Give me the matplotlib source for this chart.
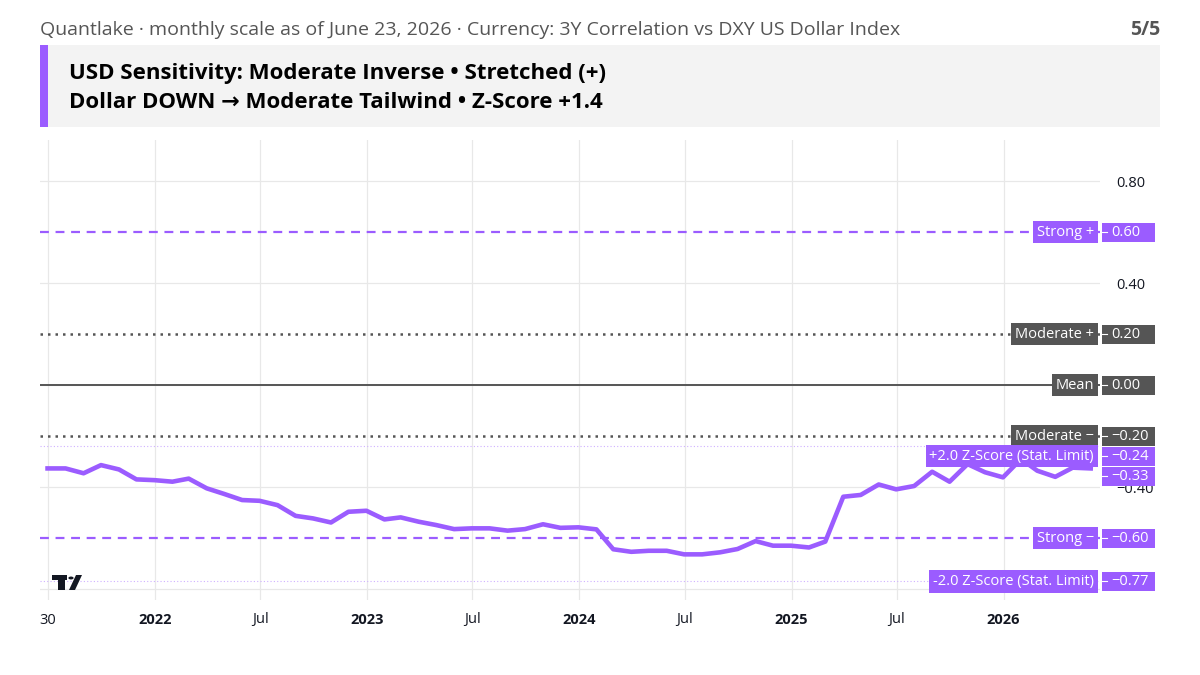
import numpy as np
import pandas as pd
import matplotlib
matplotlib.use('Agg')
import matplotlib.pyplot as plt
from matplotlib.transforms import blended_transform_factory
from matplotlib.patches import Rectangle, Polygon, Circle

plt.rcParams['font.family'] = ['Open Sans', 'DejaVu Sans']

# data: monthly 3Y correlation vs DXY
dates = pd.date_range('2021-06-30', periods=60, freq='ME')
corr = [-0.327, -0.327, -0.346, -0.314, -0.331, -0.370, -0.373,
        -0.379, -0.367, -0.405, -0.427, -0.451, -0.454, -0.471, -0.513, -0.523, -0.539, -0.497, -0.493,
        -0.527, -0.519, -0.536, -0.549, -0.565, -0.562, -0.562, -0.571, -0.565, -0.546, -0.560, -0.558,
        -0.566, -0.644, -0.654, -0.650, -0.650, -0.664, -0.664, -0.656, -0.643, -0.612, -0.630, -0.630,
        -0.637, -0.614, -0.438, -0.431, -0.390, -0.409, -0.396, -0.340, -0.379, -0.310, -0.342, -0.362,
        -0.290, -0.336, -0.360, -0.324, -0.327]

level_names = ['Strong +', 'Moderate +', 'Mean', 'Moderate \u2212',
               '+2.0 Z-Score (Stat. Limit)', 'Strong \u2212', '-2.0 Z-Score (Stat. Limit)']
level_values = [0.60, 0.20, 0.00, -0.20, -0.24, -0.60, -0.77]
level_kinds = ['strong', 'moderate', 'mean', 'moderate', 'z', 'strong', 'z']

# 0.00 and -0.80 sit under the level boxes, so only their gridlines show
grid_y = [0.80, 0.40, 0.00, -0.40, -0.80]
tick_y = [0.80, 0.40, -0.40]
xtick_dates = ['2021-06-30', '2022-01-01', '2022-07-01', '2023-01-01', '2023-07-01',
               '2024-01-01', '2024-07-01', '2025-01-01', '2025-07-01', '2026-01-01']
xtick_labels = ['30', '2022', 'Jul', '2023', 'Jul', '2024', 'Jul', '2025', 'Jul', '2026']

header = 'Quantlake \u00b7 monthly scale as of June 23, 2026 \u00b7 Currency: 3Y Correlation vs DXY US Dollar Index'
title1 = 'USD Sensitivity: Moderate Inverse \u2022 Stretched (+)'
title2 = 'Dollar DOWN \u2192 Moderate Tailwind \u2022 Z-Score +1.4'

PURPLE = '#9b5cff'
GRAY = '#555555'
LIGHT_PURPLE = '#cfb0ff'

W, H = 1200, 675
fig = plt.figure(figsize=(12, 6.75), dpi=100)
ax = fig.add_axes([40 / W, 1 - 600 / H, 1060 / W, 460 / H])

ax.plot(dates, corr, color=PURPLE, lw=3.3, solid_joinstyle='round', zorder=4)

styles = {
    'strong': dict(color=PURPLE, lw=1.6, ls=(0, (4, 3))),
    'moderate': dict(color=GRAY, lw=1.8, ls=(0, (1, 2))),
    'mean': dict(color=GRAY, lw=1.4, ls='-'),
    'z': dict(color=LIGHT_PURPLE, lw=0.8, ls=(0, (1, 2))),
}
box_colors = {'strong': PURPLE, 'moderate': GRAY, 'mean': GRAY, 'z': PURPLE}
for v, k in zip(level_values, level_kinds):
    ax.axhline(v, zorder=3, **styles[k])

ax.set_xlim(pd.Timestamp('2021-06-17'), pd.Timestamp('2026-06-16'))
ax.set_ylim(-0.843, 0.961)

ax.set_xticks([pd.Timestamp(d) for d in xtick_dates])
ax.set_xticklabels(xtick_labels)
for lbl in ax.get_xticklabels():
    if len(lbl.get_text()) == 4:
        lbl.set_fontweight('bold')
ax.tick_params(axis='x', length=0, pad=9, labelsize=10.5, colors='#131722')

ax.yaxis.tick_right()
ax.set_yticks(grid_y)
ax.set_yticklabels([f'{t:.2f}'.replace('-', '\u2212') if t in tick_y else '' for t in grid_y])
ax.tick_params(axis='y', length=0, pad=12, labelsize=10.5, colors='#131722')

ax.grid(True, color='#e8e8e8', lw=0.9)
ax.set_axisbelow(True)
for s in ax.spines.values():
    s.set_visible(False)

# right-hand labels with simple stacking so boxes don't overlap
ypp = (0.961 + 0.843) / 460  # data units per pixel
box_h = 20 * ypp
entries = [(v, n, box_colors[k]) for v, n, k in zip(level_values, level_names, level_kinds)]
entries.append((corr[-1], None, PURPLE))
entries.sort(key=lambda e: -e[0])
placed = []
prev = None
for v, n, c in entries:
    y = v
    if prev is not None and prev - y < box_h:
        y = prev - box_h
    placed.append((v, y, n, c))
    prev = y

tr = blended_transform_factory(fig.transFigure, ax.transData)
for v, y, n, c in placed:
    ax.add_patch(Rectangle((1102 / W, y - box_h / 2 + ypp * 0.5), 53 / W, box_h - ypp,
                           transform=tr, facecolor=c, edgecolor='none', clip_on=False, zorder=6))
    ax.plot([1102 / W, 1107 / W], [y, y], transform=tr, color='white', lw=0.8,
            clip_on=False, zorder=7)
    ax.text(1111 / W, y, f'{v:.2f}'.replace('-', '\u2212'), transform=tr, ha='left', va='center',
            color='white', fontsize=10.5, zorder=7)
    if n:
        ax.text(1094 / W, y, n, transform=tr, ha='right', va='center', color='white',
                fontsize=10.5, zorder=7,
                bbox=dict(boxstyle='square,pad=0.25', facecolor=c, edgecolor='none'))

# header
fig.text(40 / W, 1 - 30 / H, header, ha='left', va='center', color='#555555', fontsize=14)
fig.text(1160 / W, 1 - 30 / H, '5/5', ha='right', va='center', color='#555555', fontsize=14,
         fontweight='bold')
fig.patches.append(Rectangle((40 / W, 1 - 127 / H), 1120 / W, 82 / H, transform=fig.transFigure,
                             facecolor='#f3f3f3', edgecolor='none'))
fig.patches.append(Rectangle((40 / W, 1 - 127 / H), 8 / W, 82 / H, transform=fig.transFigure,
                             facecolor=PURPLE, edgecolor='none'))
fig.text(69 / W, 1 - 73 / H, title1, ha='left', va='center', color='black', fontsize=16,
         fontweight='bold')
fig.text(69 / W, 1 - 102 / H, title2, ha='left', va='center', color='black', fontsize=16,
         fontweight='bold')

# small logo mark bottom-left
logo = '#131722'
fig.patches.append(Rectangle((52 / W, 1 - 580 / H), 15 / W, 5 / H, transform=fig.transFigure,
                             facecolor=logo, edgecolor='none'))
fig.patches.append(Rectangle((58 / W, 1 - 590 / H), 7 / W, 12 / H, transform=fig.transFigure,
                             facecolor=logo, edgecolor='none'))
fig.patches.append(Circle((71 / W, 1 - 578 / H), 2.6 / W, transform=fig.transFigure,
                          facecolor=logo, edgecolor='none'))
fig.patches.append(Polygon([(69 / W, 1 - 590 / H), (75 / W, 1 - 590 / H), (82 / W, 1 - 575 / H),
                            (76 / W, 1 - 575 / H)], closed=True, transform=fig.transFigure,
                           facecolor=logo, edgecolor='none'))

fig.savefig('out.png', dpi=100)
